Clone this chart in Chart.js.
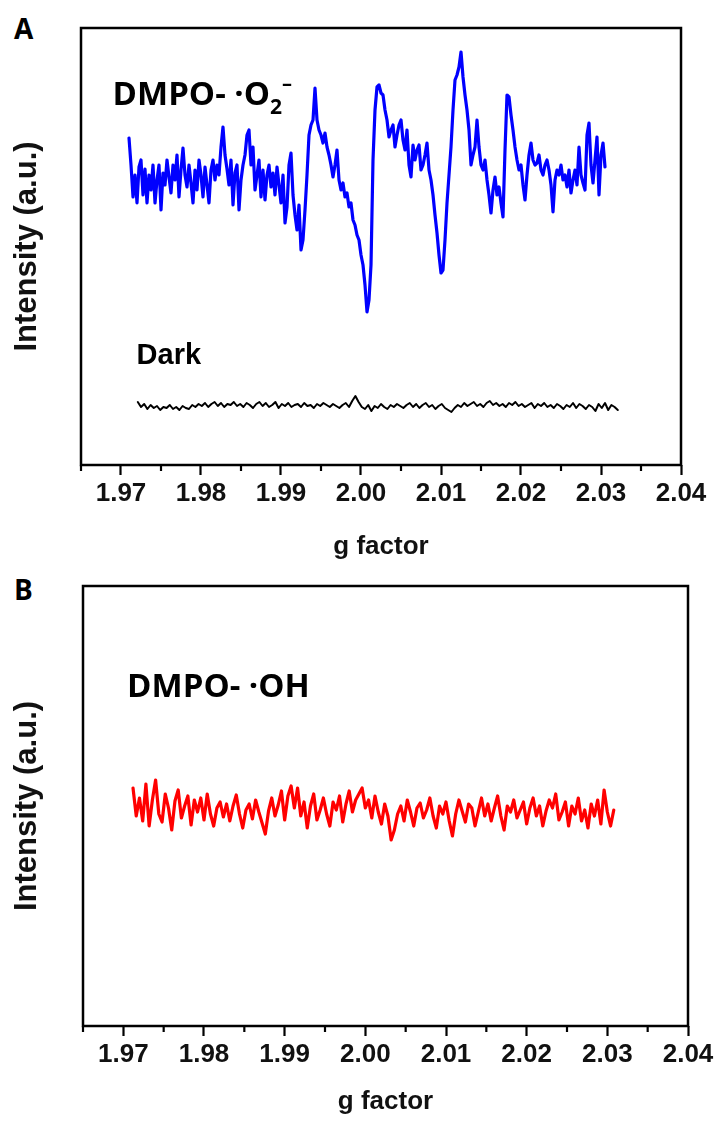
<!DOCTYPE html>
<html>
<head>
<meta charset="utf-8">
<script src="https://cdn.jsdelivr.net/npm/chart.js@4.4.0/dist/chart.umd.min.js"></script>
<style>
  html, body { margin: 0; padding: 0; background: #fff; }
  body { width: 720px; height: 1121px; position: relative; overflow: hidden; }
  .panel { position: absolute; left: 0; width: 720px; }
  #wrapA { top: 0; height: 570px; }
  #wrapB { top: 570px; height: 551px; }
  .tag { position: absolute; left: 14px; font: bold 28px 'Open Sans', sans-serif; line-height: 1; color: #000; }
</style>
</head>
<body>
<div class="tag" style="top:14px">A</div>
<div class="tag" style="top:575px">B</div>
<div class="panel" id="wrapA"><canvas id="chartA" width="720" height="570"></canvas></div>
<div class="panel" id="wrapB"><canvas id="chartB" width="720" height="551"></canvas></div>
<script>
// ─── Data ────────────────────────────────────────────────────────────────────

// g factor axis
const G_MIN = 1.965;
const G_MAX = 2.04;

// DMPO-·O2− (light), sampled every 0.00025 from g = 1.971
const o2Start = 1.971;
const o2Step = 0.00025;
const o2Intensity = [
  327, 300, 268, 290, 262, 298, 305, 270, 296, 262,
  290, 275, 300, 262, 285, 300, 255, 292, 280, 305,
  288, 272, 300, 285, 310, 268, 295, 317, 290, 278,
  300, 282, 262, 295, 275, 305, 290, 268, 298, 280,
  262, 295, 305, 285, 300, 290, 318, 338, 310, 296,
  280, 305, 260, 292, 300, 255, 285, 300, 310, 330,
  335, 300, 318, 275, 290, 305, 268, 295, 265, 290,
  300, 278, 292, 270, 298, 280, 262, 290, 242, 258,
  300, 312, 270, 250, 235, 260, 215, 225, 255, 290,
  330, 340, 345, 377, 345, 335, 330, 322, 332, 318,
  310, 300, 288, 300, 315, 285, 275, 282, 268, 272,
  258, 262, 245, 240, 230, 225, 210, 200, 180, 153,
  165, 200, 305, 355, 378, 380, 372, 370, 355, 345,
  328, 335, 340, 318, 330, 340, 345, 325, 315, 335,
  300, 288, 320, 305, 315, 320, 295, 300, 310, 322,
  295, 285, 270, 250, 232, 210, 192, 195, 225, 262,
  290, 318, 355, 385, 390, 398, 413, 388, 370, 355,
  335, 300, 310, 318, 345, 318, 300, 295, 305, 285,
  270, 252, 275, 288, 270, 278, 262, 248, 315, 370,
  368, 350, 335, 318, 305, 295, 300, 280, 265, 290,
  310, 322, 305, 300, 302, 310, 295, 290, 300, 305,
  295, 280, 253, 285, 295, 290, 300, 285, 290, 278,
  295, 272, 285, 295, 280, 318, 290, 282, 275, 330,
  342, 300, 282, 305, 328, 270, 310, 322, 298
];

// Dark, sampled every 0.0004 from g = 1.9721
const darkStart = 1.9721;
const darkStep = 0.0004;
const darkIntensity = [
  63, 58, 61, 56, 60, 57, 59, 55, 58, 57,
  60, 56, 58, 55, 59, 57, 56, 60, 58, 61,
  59, 62, 58, 61, 63, 59, 62, 58, 61, 60,
  63, 59, 61, 58, 62, 60, 57, 61, 63, 59,
  62, 58, 60, 63, 57, 61, 59, 62, 58, 60,
  61, 58, 62, 59, 60, 57, 61, 59, 62, 60,
  58, 61, 59, 57, 60, 62, 58, 64, 69, 63,
  58, 56, 60, 54, 59, 57, 61, 58, 56, 60,
  58, 61, 59, 57, 60, 62, 58, 61, 57, 60,
  62, 58, 60, 56, 59, 61, 57, 55, 53, 57,
  60, 58, 62, 59, 61, 63, 59, 61, 58, 62,
  64, 60, 62, 59, 61, 58, 62, 60, 63, 59,
  61, 58, 60, 62, 57, 61, 59, 62, 58, 60,
  57, 61, 59, 56, 60, 58, 62, 57, 61, 59,
  56, 60, 58, 54, 61, 57, 62, 55, 60, 58, 55
];

// DMPO-·OH, sampled every 0.0004 from g = 1.9712
const ohStart = 1.9712;
const ohStep = 0.0004;
const ohIntensity = [
  238, 210, 228, 205, 242, 200, 226, 246, 212, 204,
  232, 218, 196, 225, 236, 208, 220, 230, 201, 226,
  214, 228, 206, 232, 212, 200, 218, 224, 209, 222,
  205, 220, 231, 212, 198, 216, 222, 207, 226, 214,
  203, 192, 215, 228, 210, 221, 235, 206, 230, 240,
  218, 238, 210, 224, 198, 220, 232, 206, 216, 228,
  212, 200, 224, 216, 230, 204, 222, 235, 214, 226,
  232, 238, 218, 226, 208, 230, 214, 202, 222, 210,
  186, 196, 212, 220, 205, 226, 214, 200, 218, 223,
  208, 216, 228, 210, 198, 220, 212, 224, 205, 190,
  212, 226, 215, 204, 222, 218, 200, 214, 228, 210,
  222, 205, 218, 230, 210, 196, 220, 214, 226, 208,
  216, 224, 202, 218, 228, 210, 220, 200, 215, 226,
  218, 232, 206, 214, 224, 200, 220, 212, 228, 205,
  216, 198, 222, 210, 226, 202, 236, 214, 200, 216
];

// ─── Helpers ─────────────────────────────────────────────────────────────────

const toPoints = (start, step, vals) => vals.map((v, i) => ({ x: +(start + i * step).toFixed(5), y: v }));
const isMajor = v => Math.abs(v * 100 - Math.round(v * 100)) < 1e-6;
const AXIS_FONT = "'Liberation Sans', Arial, sans-serif";
const NOTE_FONT = "'Open Sans', sans-serif";

// box around the plot + short minor ticks on the g axis
const framePlugin = {
  id: 'frame',
  afterDraw(chart) {
    const { ctx, chartArea: a, scales: { x } } = chart;
    ctx.save();
    ctx.strokeStyle = '#000';
    ctx.lineWidth = 2.5;
    ctx.strokeRect(a.left, a.top, a.width, a.height);
    ctx.lineWidth = 2.2;
    for (const t of x.ticks) {
      if (isMajor(t.value)) continue;
      const px = x.getPixelForValue(t.value);
      ctx.beginPath();
      ctx.moveTo(px, a.bottom);
      ctx.lineTo(px, a.bottom + 6);
      ctx.stroke();
    }
    ctx.restore();
  },
};

// in-plot labels with sub/superscripts
const notesPlugin = {
  id: 'notes',
  afterDatasetsDraw(chart, args, opts) {
    const { ctx, scales: { x, y } } = chart;
    ctx.save();
    ctx.fillStyle = '#000';
    ctx.textBaseline = 'alphabetic';
    for (const n of opts.items || []) {
      let px = x.getPixelForValue(n.g);
      const py = y.getPixelForValue(n.v);
      for (const p of n.parts) {
        ctx.font = `bold ${p.size}px ${n.family}`;
        ctx.fillText(p.t, px, py + (p.dy || 0));
        px += ctx.measureText(p.t).width + (p.gap || 0);
      }
    }
    ctx.restore();
  },
};

function makeChart(id, datasets, box, notes) {
  const canvas = document.getElementById(id);
  return new Chart(canvas, {
    type: 'line',
    data: { datasets },
    plugins: [framePlugin, notesPlugin],
    options: {
      responsive: false,
      animation: false,
      devicePixelRatio: 1,
      layout: { padding: { top: box.top, right: 720 - box.right, left: 0, bottom: 0 } },
      plugins: {
        legend: { display: false },
        tooltip: { enabled: false },
        notes: { items: notes },
      },
      elements: { point: { radius: 0 }, line: { tension: 0, borderJoinStyle: 'round', borderCapStyle: 'round' } },
      scales: {
        x: {
          type: 'linear',
          min: G_MIN,
          max: G_MAX,
          border: { display: false },
          grid: {
            drawOnChartArea: false,
            drawTicks: true,
            tickLength: 10,
            tickWidth: 2.2,
            tickColor: c => (c.tick && isMajor(c.tick.value) ? '#000' : 'rgba(0,0,0,0)'),
          },
          ticks: {
            stepSize: 0.005,
            autoSkip: false,
            maxRotation: 0,
            padding: box.tickPad,
            color: '#111',
            font: { family: AXIS_FONT, size: 26, weight: 'bold' },
            callback: v => (isMajor(v) ? v.toFixed(2) : ''),
          },
          title: {
            display: true,
            text: 'g factor',
            color: '#111',
            font: { family: AXIS_FONT, size: 26, weight: 'bold' },
            padding: { top: 0, bottom: box.titlePad },
          },
          afterFit: s => { s.height = box.canvasH - box.bottom; },
        },
        y: {
          min: 0,
          max: box.bottom - box.top,
          border: { display: false },
          grid: { display: false },
          ticks: { display: false },
          title: {
            display: true,
            text: 'Intensity (a.u.)',
            color: '#111',
            font: { family: AXIS_FONT, size: 31, weight: 'bold' },
            padding: { top: 9, bottom: 0 },
          },
          afterFit: s => { s.width = box.left; },
        },
      },
    },
  });
}

// ─── Panel A ─────────────────────────────────────────────────────────────────

makeChart('chartA', [
  { data: toPoints(o2Start, o2Step, o2Intensity), borderColor: '#0000ff', borderWidth: 3.2 },
  { data: toPoints(darkStart, darkStep, darkIntensity), borderColor: '#000000', borderWidth: 2 },
], { top: 28, bottom: 465, left: 81, right: 681, canvasH: 570, tickPad: 3, titlePad: 8 }, [
  { g: 1.96895, v: 360, family: NOTE_FONT, parts: [
    { t: 'DMPO- \u00B7O', size: 33 },
    { t: '2', size: 21, dy: 9 },
    { t: '\u2013', size: 20, dy: -15 },
  ] },
  { g: 1.97195, v: 101, family: AXIS_FONT, parts: [{ t: 'Dark', size: 29 }] },
]);

// ─── Panel B ─────────────────────────────────────────────────────────────────

makeChart('chartB', [
  { data: toPoints(ohStart, ohStep, ohIntensity), borderColor: '#ff0000', borderWidth: 3.2 },
], { top: 16, bottom: 456, left: 83, right: 688, canvasH: 551, tickPad: 3, titlePad: 4 }, [
  { g: 1.97047, v: 329, family: NOTE_FONT, parts: [{ t: 'DMPO- \u00B7OH', size: 33 }] },
]);
</script>
</body>
</html>
